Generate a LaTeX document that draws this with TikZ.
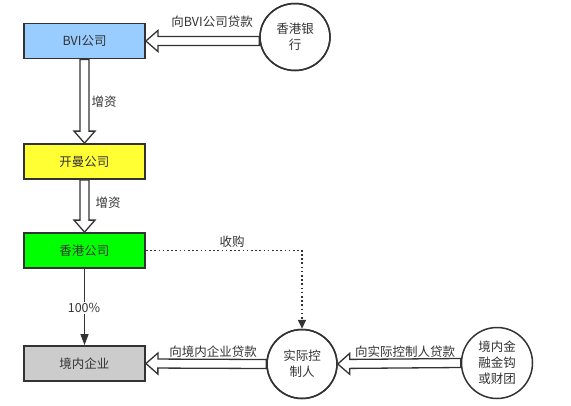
\documentclass[tikz,border=0pt]{standalone}
\usepackage{fontspec}
\setmainfont{Noto Sans CJK SC}
\usetikzlibrary{calc,arrows.meta,shapes.geometric}
\definecolor{edge}{HTML}{333333}
\definecolor{bvic}{HTML}{99CCFF}
\definecolor{kmc}{HTML}{FFFF33}
\definecolor{hkc}{HTML}{00FF00}
\definecolor{jnc}{HTML}{CCCCCC}
\newcommand\hollowarrow[2]{%
  \coordinate (ha-h) at ($(#2)!12pt!(#1)$);
  \draw[hollow] ($(#1)!4.5pt!90:(#2)$) -- ($(ha-h)!4.5pt!90:(#2)$) -- ($(ha-h)!10.5pt!90:(#2)$) -- (#2)
    -- ($(ha-h)!10.5pt!-90:(#2)$) -- ($(ha-h)!4.5pt!-90:(#2)$) -- ($(#1)!4.5pt!-90:(#2)$) -- cycle;}
\tikzset{
  company/.style={draw=edge, line width=1.8pt, minimum width=121pt, minimum height=35pt, inner sep=0pt, text=edge, font=\fontsize{12.5}{14}\selectfont},
  party/.style={draw=edge, line width=1.5pt, fill=white, ellipse, inner sep=0pt, text=edge, align=center, font=\fontsize{12.5}{16}\selectfont},
  hollow/.style={draw=edge, line width=1.3pt, fill=white, line join=miter},
  lbl/.style={text=edge, inner sep=1pt, font=\fontsize{12.5}{14}\selectfont},
}
\begin{document}
\begin{tikzpicture}[x=1pt,y=-1pt]
\useasboundingbox (0,0) rectangle (571,405);
\node[company, fill=bvic] (bvi) at (84.5,41) {BVI公司};
\node[company, fill=kmc] (km) at (84.5,161.5) {开曼公司};
\node[company, fill=hkc] (hk) at (84.5,250.5) {香港公司};
\node[company, fill=jnc] (jn) at (84.5,363.5) {境内企业};
\node[party, minimum width=70pt, minimum height=67pt] (bank) at (295,37) {香港银\\行};
\node[party, minimum width=70pt, minimum height=69pt] (ctrl) at (302,364) {实际控\\制人};
\node[party, minimum width=71pt, minimum height=71pt] (fin) at (497,363) {境内金\\融金钩\\或财团};
% hollow arrows
\hollowarrow{bvi.south}{km.north}
\hollowarrow{km.south}{hk.north}
\hollowarrow{bank.west |- bvi.east}{bvi.east}
\hollowarrow{ctrl.west}{jn.east}
\hollowarrow{fin.west}{ctrl.east}
% redraw circle borders over arrow ends
\draw[edge, line width=1.5pt] (bank) ellipse (35pt and 33.5pt);
\draw[edge, line width=1.5pt] (ctrl) ellipse (35pt and 34.5pt);
% plain arrow
\draw[edge, line width=1.3pt, -{Triangle[length=11pt,width=8pt]}] (hk.south) -- (jn.north);
\node[lbl, fill=white] (l100) at (84,308) {100\%};
% dotted
\draw[edge, line width=1.6pt, dash pattern=on 1.6pt off 2.6pt, -{Triangle[length=9pt,width=8pt]}] (hk.east) -| (ctrl.north);
% labels
\node[lbl] (lz1) at (104,102) {增资};
\node[lbl] (lz2) at (108,203) {增资};
\node[lbl] (lsg) at (232,242) {收购};
\node[lbl] (lbvi) at (212,22) {向BVI公司贷款};
\node[lbl] (ljn) at (213,352) {向境内企业贷款};
\node[lbl] (lctrl) at (405,352) {向实际控制人贷款};
\end{tikzpicture}
\end{document}
